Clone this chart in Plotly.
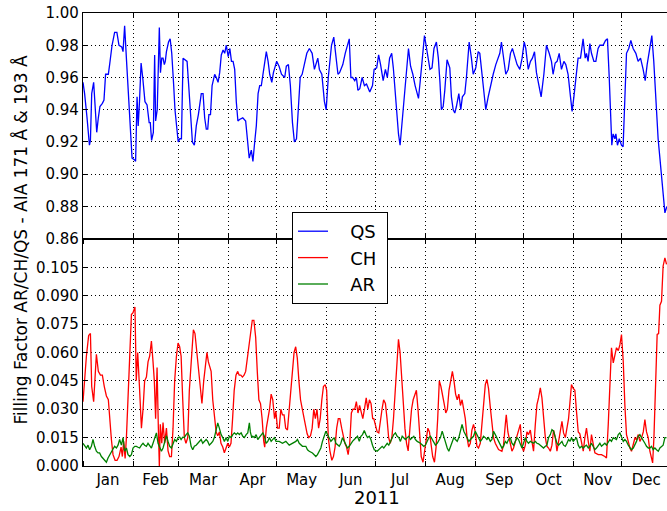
import pandas as pd
import plotly.graph_objects as go
from plotly.subplots import make_subplots

# ---- data: day offset from 2011-01-01 and filling factor ----
qs_day = [0,1,2.5,4,4.6,5.4,6.6,7.3,8.5,9.5,10.5,12,13,14,15.7,16.5,18,19.6,21,22.3,24,24.8,25.8,27,28,29.3,30.4,31.8,32.6,33.5,34.2,35,36,37,38.4,39.7,41,41.7,42.5,43.6,44.4,45,46,47.3,48,48.8,49.6,50.4,51,51.7,53,54,55,56.2,57,58.3,59,60,61,62,63.2,64.5,65.5,66.7,67.8,69,70.2,71.5,72.3,73.3,74.4,75.4,76.4,77.3,78,79,80,81.6,82.6,83.7,84.7,85.7,86.8,87.8,88.8,90,91,92,93,94,95,96,
          97,99,100.8,102,103,104.3,105.3,106.4,107.4,108.5,109.5,110.5,111.6,112.6,113.6,114.7,115.7,117,118,120,121.5,123,125,126,127.3,128.5,129.8,131,132.3,133.4,134.6,135.8,137,138.7,140.3,142,143.4,144.4,145.5,146.5,148,149.6,150.7,152,154,155.4,156.7,158,159,161,162.5,163.8,165,166,167,168.4,169.4,170.4,171.5,173,174.4,175.7,177.7,179.4,180.4,182,183.2,184.4,186,187.4,188.6,190,191.3,192.3,193.4,194.4,195.5,196.5,197.5,198.6,200,201.7,203,204.4,205.8,207.9,209,210.6,211.6,212.6,214,215,216.3,217.5,219,220.2,221.2,
          222.1,223.2,224.2,225.6,227.3,228.3,229.4,230.4,231.4,232.9,234.1,235.1,236.6,237.6,239.3,240.7,241.8,243.4,244.9,245.9,247.3,248.6,249.6,251.1,252.5,254.2,255.8,257.3,258.3,259.3,260.8,262,263.5,264.9,266.1,267.6,269,270.7,272.1,273.4,274.4,275.9,277.3,278.5,279.8,281,282.5,283.9,285.6,287.2,288.9,290.3,291.3,292.6,293.8,295.1,296.5,298,299.2,300.6,302.1,303.1,304.2,305.4,306.8,308.3,309.9,311.2,312,313,314.1,315.1,316.6,317.8,319.2,320.3,322.3,323.8,325,326.1,326.9,327.7,328.5,329.6,330.2,331.2,332.3,333.7,334.7,335.8,336.8,338.2,339.5,340.9,342.6,344,345.5,347.1,348.4,349.6,350.9,352.5,353.7,355,356.4,357.5,358.5,359.5,360.6,361.8]
qs_val = [0.957,0.95,0.935,0.918,0.921,0.95,0.957,0.945,0.926,0.935,0.942,0.944,0.946,0.962,0.962,0.968,0.98,0.988,0.988,0.98,0.979,0.976,0.992,0.97,0.95,0.93,0.91,0.909,0.908,0.948,0.93,0.945,0.969,0.96,0.945,0.943,0.932,0.932,0.921,0.926,0.974,0.933,0.94,0.991,0.963,0.972,0.972,0.968,0.97,0.976,0.982,0.984,0.975,0.955,0.94,0.927,0.92,0.922,0.922,0.972,0.971,0.97,0.955,0.938,0.92,0.918,0.93,0.937,0.944,0.95,0.95,0.935,0.928,0.928,0.937,0.937,0.955,0.962,0.96,0.957,0.963,0.974,0.977,0.975,0.98,0.973,0.978,0.97,0.97,0.965,0.945,0.933,
          0.934,0.935,0.933,0.92,0.91,0.915,0.908,0.92,0.93,0.95,0.955,0.955,0.963,0.968,0.976,0.97,0.962,0.957,0.963,0.97,0.967,0.962,0.96,0.967,0.968,0.955,0.932,0.92,0.922,0.94,0.96,0.962,0.968,0.975,0.978,0.975,0.965,0.968,0.972,0.965,0.962,0.945,0.94,0.96,0.98,0.985,0.975,0.962,0.963,0.968,0.975,0.98,0.984,0.96,0.96,0.958,0.96,0.952,0.953,0.96,0.955,0.956,0.951,0.955,0.965,0.966,0.974,0.968,0.958,0.965,0.96,0.972,0.975,0.966,0.95,0.937,0.925,0.918,0.93,0.945,0.963,0.978,0.967,0.962,0.955,0.947,0.958,0.975,0.986,0.98,0.97,0.965,0.966,0.978,0.982,0.972,0.957,
          0.94,0.942,0.952,0.971,0.966,0.948,0.94,0.938,0.942,0.95,0.94,0.948,0.95,0.96,0.982,0.972,0.962,0.966,0.976,0.975,0.962,0.948,0.94,0.948,0.955,0.962,0.968,0.972,0.975,0.982,0.97,0.962,0.965,0.975,0.978,0.972,0.968,0.965,0.972,0.982,0.978,0.965,0.97,0.972,0.976,0.963,0.955,0.948,0.962,0.98,0.975,0.97,0.962,0.969,0.97,0.975,0.965,0.97,0.968,0.962,0.948,0.939,0.948,0.958,0.972,0.972,0.984,0.972,0.975,0.97,0.981,0.975,0.97,0.97,0.978,0.98,0.98,0.983,0.984,0.96,0.935,0.918,0.925,0.922,0.925,0.918,0.922,0.918,0.917,0.95,0.975,0.978,0.983,0.978,0.975,0.97,0.972,0.965,0.958,0.968,0.975,0.986,0.97,0.945,0.922,0.91,0.9,0.886,0.876,0.88]

ch_day = [0,1.05,2.1,3.5,4.6,5.4,6.6,8.3,9.5,10.8,12,13.2,14.5,15.7,16.5,17.6,18.6,19.9,21.1,22.3,23.6,24.4,25.2,26.1,26.9,28.5,30,31,32.2,33,33.9,35.1,36.2,37.2,38.2,39.3,40.3,41.3,42.4,43.4,44.2,45,45.9,46.7,47.3,47.9,48.8,49.6,50.6,51.7,52.7,53.7,54.8,55.8,56.8,57.9,58.9,59.9,
          60.8,61.8,62.8,63.8,64.9,65.9,66.9,68.4,69.4,70.5,71.5,72.5,73.7,74.8,75.8,76.8,77.7,78.5,79.4,80.4,81.5,82.5,83.5,84.5,85.5,86.6,87.6,88.6,89.7,90.7,91.7,92.7,93.7,94.8,95.8,96.8,97.8,98.8,99.8,100.8,101.9,102.9,103.9,104.9,105.9,107,108,109,110,111,112,112.6,113.6,114.6,115.6,116.6,117.6,118.7,
          119.5,120.5,121.6,122.6,123.6,124.6,125.6,126.7,127.7,128.7,129.7,130.8,131.8,132.8,133.8,134.8,135.9,136.9,137.9,138.9,139.9,141,142,143,144,145,146,147,148,149,150.1,151,152,153,154.2,155.2,156.2,157.2,158.2,159.2,160.3,161.3,162.3,163.3,164.3,165.3,166.3,167.3,168.4,169.4,170.4,171.4,172.4,173.4,174.4,175.5,176.5,177.5,178.5,179.5,
          180.2,181.3,182.3,183.3,184.3,185.3,186.3,187.4,188.4,189.4,190.4,191.4,192.4,193.4,194.4,195.5,196.5,197.5,198.5,199.5,200.5,201.5,202.6,203.6,204.6,205.6,206.6,207.6,208.6,209.6,210.7,211.7,212.7,213.7,214.7,215.7,216.7,217.8,218.8,219.8,220.8,221.8,222.8,223.8,224.8,225.8,226.8,227.9,228.9,229.9,230.9,231.9,232.9,233.9,234.9,235.9,236.9,238,239,240,
          241,242,243.1,244.1,245.1,246.2,247.2,248.2,249.3,250.3,251.3,252.4,253.4,254.4,255.5,257.5,259.6,260.6,261.7,262.3,263.3,264.1,265,265.8,266.8,267.9,268.9,269.9,271,272,273,274.1,275.1,276.1,277.2,278.2,279.2,280.3,281.3,282.3,283.4,284.4,285.4,286.5,287.5,288.5,289.6,290.6,291.6,292.7,293.7,294.7,295.8,296.8,297.8,298.9,300.9,
          302.7,303.8,304.8,305.8,306.9,307.9,308.9,310,311,312,313.1,314.1,315.1,316.2,317.2,319.3,321.3,323.4,324.4,325.5,326.5,327.5,328.6,329.6,330.6,331.7,332.7,333.7,334.8,335.8,336.8,337.9,338.9,339.9,341,342,343,344.1,345.1,346.1,347.2,348.2,349.2,350.3,351.3,352.3,353,353.8,354.6,355.8,356.7,357.5,358.5,359.5,360.6,361.6]
ch_val = [0.034,0.047,0.058,0.069,0.07,0.042,0.034,0.059,0.05,0.048,0.048,0.042,0.037,0.035,0.025,0.014,0.006,0.003,0.003,0.005,0.01,0.005,0.013,0.004,0.015,0.05,0.08,0.081,0.084,0.045,0.06,0.04,0.02,0.03,0.045,0.047,0.055,0.058,0.066,0.055,0.045,0.025,0.052,0.02,0.0,0.022,0.012,0.023,0.012,0.02,0.008,0.005,0.005,0.02,0.045,0.058,0.065,0.063,
          0.058,0.035,0.015,0.012,0.015,0.04,0.055,0.072,0.07,0.06,0.05,0.042,0.033,0.045,0.053,0.06,0.055,0.053,0.05,0.035,0.025,0.018,0.016,0.018,0.012,0.01,0.007,0.01,0.012,0.01,0.012,0.025,0.04,0.048,0.05,0.048,0.048,0.047,0.048,0.05,0.058,0.065,0.07,0.077,0.077,0.068,0.05,0.035,0.033,0.025,0.013,0.01,0.02,0.025,0.03,0.038,0.035,0.025,
          0.029,0.02,0.02,0.03,0.027,0.027,0.02,0.019,0.03,0.04,0.052,0.06,0.063,0.057,0.045,0.035,0.03,0.025,0.02,0.017,0.015,0.016,0.02,0.03,0.025,0.03,0.02,0.025,0.035,0.042,0.043,0.04,0.015,0.008,0.003,0.005,0.01,0.02,0.025,0.025,0.02,0.015,0.012,0.01,0.006,0.012,0.028,0.03,0.03,0.034,0.028,0.032,0.028,0.025,0.03,0.036,0.03,0.035,0.033,0.025,
          0.025,0.022,0.018,0.0175,0.025,0.03,0.035,0.033,0.025,0.015,0.012,0.015,0.025,0.04,0.055,0.067,0.06,0.045,0.03,0.02,0.012,0.008,0.02,0.03,0.035,0.037,0.04,0.03,0.015,0.005,0.002,0.008,0.012,0.02,0.018,0.012,0.005,0.002,0.01,0.025,0.045,0.042,0.038,0.033,0.028,0.03,0.04,0.045,0.05,0.045,0.038,0.035,0.038,0.032,0.035,0.03,0.025,0.015,0.01,0.012,
          0.019,0.022,0.018,0.0105,0.0095,0.012,0.022,0.031,0.043,0.0457,0.041,0.031,0.022,0.015,0.012,0.0087,0.0078,0.011,0.022,0.027,0.018,0.015,0.011,0.0078,0.0095,0.013,0.016,0.02,0.022,0.0104,0.0078,0.011,0.018,0.0166,0.019,0.013,0.0078,0.022,0.0325,0.036,0.0413,0.036,0.027,0.015,0.0104,0.0095,0.0078,0.011,0.019,0.015,0.0078,0.013,0.018,0.0236,0.0175,0.015,0.025,
          0.043,0.041,0.04,0.029,0.018,0.017,0.013,0.0078,0.015,0.02,0.013,0.0078,0.0166,0.011,0.007,0.006,0.006,0.005,0.0042,0.022,0.0466,0.0625,0.0545,0.058,0.0625,0.061,0.064,0.0695,0.055,0.032,0.0166,0.013,0.0095,0.0078,0.011,0.0148,0.014,0.0166,0.013,0.0148,0.018,0.0245,0.018,0.0148,0.0078,0.004,0.0016,0.015,0.041,0.0695,0.07,0.085,0.087,0.1057,0.11,0.1066]

ar_day = [0,1.05,2.1,3.1,4.1,5.2,6.2,7.2,8.3,9.3,10.3,11.4,12.4,13.4,14.5,15.5,16.5,17.6,18.6,19.6,20.7,21.7,22.7,23.8,24.8,25.8,26.9,27.9,29,30,31,32.1,33.1,34.1,35.1,36.2,37.2,38.2,39.3,40.3,41.3,42.4,43.4,44.4,45.5,46.5,47.5,48.6,49.6,50.6,51.7,52.7,53.7,54.8,55.8,56.8,57.9,58.9,59.9,
          60.8,61.8,62.8,63.9,64.9,65.9,67,68,69,70.1,71.1,72.1,73.2,74.2,75.2,76.3,77.3,78.3,79.4,80.4,81.4,82.5,83.5,84.5,85.6,86.6,87.6,88.7,89.7,90.7,91.8,92.8,93.8,94.9,95.9,96.9,98,99,100,101.1,102.1,103.1,103.7,104.6,105.2,106.2,107.3,108.3,109.3,110.4,111.4,112.4,113.5,114.5,115.5,116.6,117.6,118.6,119.6,
          121.6,123.6,125.7,127.8,129.8,131.9,132.9,134,136,138.1,139.1,140.2,142.2,143.3,144.3,145.3,146.4,147.4,148.4,149.5,150.5,151.5,152.6,153.6,154.6,155.7,156.7,157.7,158.8,159.8,160.8,161.9,162.9,163.9,165,166,167,168.1,169.1,170.1,171.2,172.2,173.2,174.3,175.3,176.3,177.4,178.4,179.4,180.5,
          182.3,184.3,185.4,186.4,187.4,188.5,189.5,190.5,191.6,192.6,193.6,194.7,195.7,196.7,197.8,198.8,199.8,200.9,201.9,202.9,204,205,206,207.1,209.1,210.2,211.2,212.2,213.3,214.3,215.3,216.4,217.4,218.4,219.5,220.5,221.5,222.6,223.6,224.6,225.7,226.7,227.7,228.8,229.8,230.8,231.9,232.9,233.9,234.9,236,237,238,239.1,240.1,241.1,
          242,243.1,244.1,245.1,246.2,247.2,248.2,249.3,250.3,251.3,252.4,253.4,254.4,255.5,256.5,257.5,258.6,259.6,260.6,261.7,262.7,263.7,264.8,265.8,266.8,267.9,268.9,269.9,271,272,273,274.1,275.1,276.1,277.2,278.2,279.2,280.3,281.3,282.3,283.4,284.4,285.4,286.5,287.5,288.5,289.6,290.6,291.6,292.7,293.7,294.7,295.8,296.8,297.8,298.9,299.9,300.9,301.9,
          302.7,303.8,304.8,305.8,306.9,307.9,308.9,310,311,312,313.1,314.1,315.1,316.2,317.2,318.2,319.3,320.3,321.3,322.4,323.4,324.4,325.5,326.5,327.5,328.6,330.6,331.7,332.7,333.7,334.8,335.8,336.8,337.9,338.9,339.9,341,342,343,344.1,345.1,346.1,347.2,348.2,349.2,350.3,351.3,352.3,353.3,354.4,355.4,356.5,357.5,358.5,359.5,360.6,361.6]
ar_val = [0.012,0.011,0.0095,0.011,0.0086,0.0104,0.014,0.0104,0.0078,0.0069,0.0069,0.005,0.0042,0.003,0.002,0.0042,0.006,0.0078,0.009,0.0104,0.0095,0.011,0.014,0.011,0.015,0.0078,0.0095,0.006,0.005,0.006,0.0095,0.0104,0.0104,0.0099,0.0095,0.011,0.012,0.011,0.0104,0.012,0.011,0.0095,0.012,0.015,0.0175,0.012,0.0095,0.0078,0.0095,0.013,0.016,0.013,0.0104,0.0095,0.012,0.014,0.013,0.015,0.0153,
          0.014,0.0152,0.015,0.0166,0.0175,0.0157,0.0104,0.0086,0.0104,0.011,0.012,0.013,0.014,0.012,0.013,0.014,0.013,0.011,0.012,0.013,0.015,0.02,0.0228,0.02,0.0166,0.015,0.013,0.015,0.013,0.0157,0.015,0.0166,0.0175,0.0166,0.0175,0.0166,0.0175,0.0157,0.015,0.0166,0.0175,0.0228,0.018,0.015,0.0157,0.015,0.0166,0.014,0.015,0.0166,0.0175,0.0157,0.012,0.013,0.015,0.013,0.014,0.015,0.013,
          0.013,0.012,0.013,0.011,0.012,0.013,0.014,0.012,0.0104,0.0104,0.0086,0.0078,0.0069,0.006,0.005,0.006,0.0078,0.0095,0.013,0.0157,0.0184,0.0166,0.015,0.013,0.014,0.015,0.012,0.011,0.0104,0.012,0.015,0.013,0.011,0.0095,0.0104,0.012,0.013,0.014,0.015,0.0157,0.013,0.0157,0.0166,0.0187,0.0166,0.015,0.0157,0.014,0.011,0.0086,
          0.0078,0.0095,0.0104,0.0095,0.011,0.012,0.011,0.013,0.015,0.0166,0.0175,0.0157,0.015,0.013,0.0157,0.015,0.014,0.015,0.0157,0.014,0.015,0.0157,0.014,0.013,0.012,0.011,0.0104,0.011,0.013,0.015,0.0157,0.014,0.0127,0.011,0.012,0.014,0.015,0.0184,0.0157,0.012,0.0095,0.0078,0.0104,0.013,0.015,0.014,0.013,0.015,0.019,0.022,0.0184,0.0166,0.015,0.013,0.014,0.015,
          0.0157,0.0184,0.0166,0.015,0.013,0.014,0.0157,0.015,0.014,0.015,0.013,0.014,0.0184,0.0166,0.015,0.013,0.011,0.0095,0.0104,0.013,0.012,0.014,0.015,0.012,0.011,0.013,0.015,0.014,0.012,0.0095,0.012,0.015,0.013,0.012,0.013,0.0127,0.012,0.013,0.012,0.0117,0.011,0.0104,0.0095,0.0104,0.011,0.015,0.0166,0.0192,0.0184,0.015,0.012,0.011,0.012,0.013,0.011,0.0104,0.012,0.014,0.013,
          0.015,0.013,0.014,0.015,0.011,0.0095,0.0104,0.0095,0.0104,0.011,0.0095,0.0104,0.012,0.0104,0.0086,0.0095,0.011,0.012,0.0104,0.011,0.012,0.011,0.013,0.014,0.013,0.015,0.014,0.0166,0.0175,0.015,0.013,0.014,0.013,0.011,0.0095,0.0086,0.0095,0.011,0.013,0.0157,0.0166,0.015,0.013,0.012,0.0104,0.0095,0.0095,0.0104,0.0086,0.0095,0.0086,0.0078,0.0095,0.0104,0.011,0.015,0.015]

month_fmt = "%b"
year_label = "2011"
ylabel = "Filling Factor AR/CH/QS - AIA 171 Å & 193 Å"
series_names = ["\u00a0\u00a0\u00a0QS\u00a0", "\u00a0\u00a0\u00a0CH\u00a0", "\u00a0\u00a0\u00a0AR\u00a0"]

start = pd.Timestamp("2011-01-01")
def to_dates(days):
    return [(start + pd.Timedelta(days=d)).strftime("%Y-%m-%d %H:%M:%S") for d in days]

FONT = "DejaVu Sans"
fig = make_subplots(rows=2, cols=1, shared_xaxes=True, vertical_spacing=0)
fig.add_trace(go.Scatter(x=to_dates(qs_day), y=qs_val, mode="lines", name=series_names[0],
                         line=dict(color="#0000ff", width=1.3)), row=1, col=1)
fig.add_trace(go.Scatter(x=to_dates(ch_day), y=ch_val, mode="lines", name=series_names[1],
                         line=dict(color="#ff0000", width=1.3)), row=2, col=1)
fig.add_trace(go.Scatter(x=to_dates(ar_day), y=ar_val, mode="lines", name=series_names[2],
                         line=dict(color="#008000", width=1.3)), row=2, col=1)

xr = ["2011-01-01 00:00:00", (start + pd.Timedelta(days=361.9)).strftime("%Y-%m-%d %H:%M:%S")]
xcommon = dict(type="date", range=xr, autorange=False, tick0="2011-01-01", dtick="M1",
               ticks="inside", ticklen=5, tickcolor="black", tickwidth=1,
               showline=True, linecolor="black", linewidth=1.3, mirror="ticks",
               showgrid=True, gridcolor="black", griddash="1px,3px", gridwidth=1,
               zeroline=False, automargin=False, ticklabeloverflow="allow")
fig.update_xaxes(**xcommon)
fig.update_xaxes(showticklabels=False, row=1, col=1)
fig.update_xaxes(showticklabels=True, tickformat=month_fmt, ticklabelmode="period",
                 tickfont=dict(family=FONT, size=15, color="black"), row=2, col=1)

ycommon = dict(ticks="inside", ticklen=4, tickcolor="black", showline=True,
               linecolor="black", linewidth=1.3, showgrid=True, gridcolor="black",
               griddash="1px,3px", gridwidth=1, zeroline=False, automargin=False,
               ticklabeloverflow="allow",
               tickfont=dict(family=FONT, size=15, color="black"))
fig.update_yaxes(**ycommon)
fig.update_yaxes(range=[0.86, 1.00], dtick=0.02, tick0=0.86, tickformat=".2f",
                 domain=[0.5017, 1], row=1, col=1)
fig.update_yaxes(range=[0, 0.1201], tickvals=[0, 0.015, 0.03, 0.045, 0.06, 0.075, 0.09, 0.105],
                 tickformat=".3f", domain=[0, 0.5017], row=2, col=1)

fig.add_annotation(text=ylabel, xref="paper", yref="paper", x=-(83 - 20) / 584, y=0.5,
                   textangle=-90, showarrow=False, xanchor="center", yanchor="middle",
                   font=dict(family=FONT, size=17, color="black"))
fig.add_annotation(text=year_label, xref="paper", yref="paper", x=(377 - 83) / 584, y=-(498 - 466) / 453,
                   showarrow=False, xanchor="center", yanchor="middle",
                   font=dict(family=FONT, size=18, color="black"))

fig.update_layout(
    width=667, height=511,
    margin=dict(l=83, r=0, t=13, b=45, pad=0, autoexpand=False),
    paper_bgcolor="white", plot_bgcolor="white",
    font=dict(family=FONT, color="black"),
    showlegend=True,
    legend=dict(x=(292 - 83) / 584, y=(466 - 212) / 453, xanchor="left", yanchor="top",
                bgcolor="white", bordercolor="black", borderwidth=1,
                font=dict(family=FONT, size=18, color="black"), itemwidth=30),
)

# remove the browser's default 8px page margin so the figure sits at the window origin
fig.write_html("out.html", config={"displayModeBar": False},
               post_script="document.body.style.margin='0';document.body.style.overflow='hidden';")
